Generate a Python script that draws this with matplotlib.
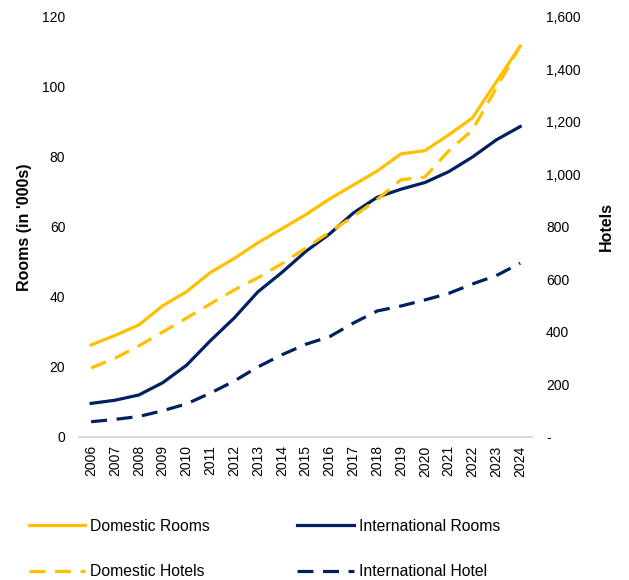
import matplotlib.pyplot as plt
from matplotlib.ticker import FuncFormatter

plt.rcParams['font.family'] = ['Liberation Sans', 'DejaVu Sans']

years = [str(y) for y in range(2006, 2025)]

# rooms in '000s (left axis)
domestic_rooms = [26.3, 29.0, 32.0, 37.5, 41.5, 47.0, 51.0, 55.5, 59.5, 63.5,
                  68.0, 72.0, 76.0, 80.9, 81.8, 86.3, 91.2, 101.5, 111.7]
international_rooms = [9.6, 10.5, 12.0, 15.5, 20.5, 27.5, 34.0, 41.5, 47.0, 53.0,
                       58.0, 64.0, 68.5, 70.8, 72.7, 75.8, 80.0, 84.9, 88.7]

# hotels (right axis)
domestic_hotels = [263, 300, 347, 400, 453, 507, 560, 607, 660, 720,
                   780, 840, 905, 980, 990, 1090, 1170, 1330, 1490]
international_hotels = [58, 67, 78, 100, 126, 167, 213, 267, 313, 353,
                        382, 434, 480, 499, 522, 547, 583, 615, 662]

yellow = "#FFC000"
navy = "#002060"

fig = plt.figure(figsize=(6.29, 5.8), dpi=100)
ax = fig.add_axes([0.126, 0.2466, 0.72, 0.7241])
ax2 = ax.twinx()

x = range(len(years))
l1, = ax.plot(x, domestic_rooms, color=yellow, lw=2.3, label="Domestic Rooms")
l2, = ax.plot(x, international_rooms, color=navy, lw=2.3, label="International Rooms")
l3, = ax2.plot(x, domestic_hotels, color=yellow, lw=2.3, dashes=(5, 3),
               label="Domestic Hotels")
l4, = ax2.plot(x, international_hotels, color=navy, lw=2.3, dashes=(5, 3),
               label="International Hotel")

ax.set_xlim(-0.5, len(years) - 0.5)
ax.set_ylim(0, 120)
ax2.set_ylim(0, 1600)
ax.set_yticks(range(0, 121, 20))
ax2.set_yticks(range(0, 1601, 200))
ax2.yaxis.set_major_formatter(FuncFormatter(lambda v, p: "-" if v == 0 else f"{int(v):,}"))

ax.set_xticks(list(x))
ax.set_xticklabels(years, rotation=90, fontsize=10)

for a in (ax, ax2):
    for s in a.spines.values():
        s.set_visible(False)
    a.tick_params(length=0)
ax.spines["bottom"].set_visible(True)
ax.spines["bottom"].set_color("#D9D9D9")
ax.spines["bottom"].set_linewidth(1.5)

ax.tick_params(axis="y", labelsize=10, pad=10)
ax2.tick_params(axis="y", labelsize=10, pad=10)
ax.tick_params(axis="x", pad=6)

ax.set_ylabel("Rooms (in '000s)", fontsize=11.5, fontweight="bold", labelpad=7)
ax2.set_ylabel("Hotels", fontsize=11.5, fontweight="bold", labelpad=13)

fig.legend([l1, l3, l2, l4],
           ["Domestic Rooms", "Domestic Hotels", "International Rooms", "International Hotel"],
           ncol=2, loc="upper left", bbox_to_anchor=(0.023, 0.13),
           frameon=False, fontsize=11.3, handlelength=3.6, handletextpad=0.3,
           columnspacing=5.6, labelspacing=1.95)

fig.savefig("out.png", dpi=100)
